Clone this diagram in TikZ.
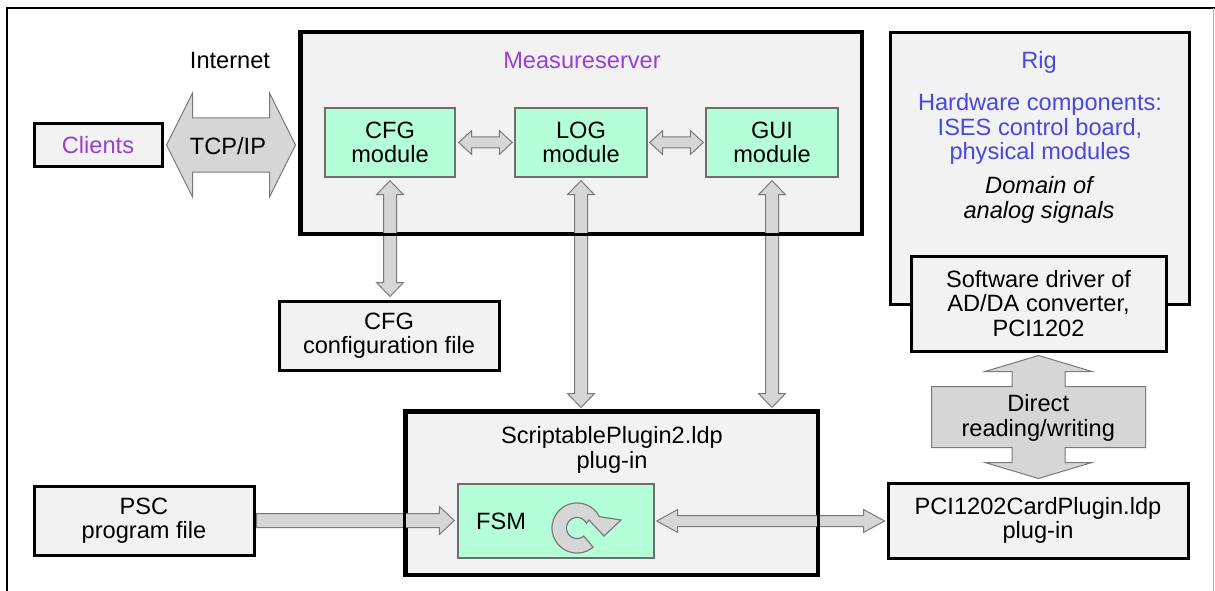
\documentclass[tikz,border=0pt]{standalone}
\usepackage{fontspec}
\setmainfont{Liberation Sans}
\usetikzlibrary{calc}
\definecolor{boxfill}{HTML}{F2F2F2}
\definecolor{mint}{HTML}{B4FFD8}
\definecolor{arrfill}{HTML}{D6D6D6}
\definecolor{arrline}{HTML}{7A7A7A}
\definecolor{purp}{HTML}{9B3FD0}
\definecolor{bluet}{HTML}{4848E0}
\definecolor{modline}{HTML}{6E6E6E}
\newcommand\dblHarrow[5]{%
  \draw[blockarrow] let \p1=#1, \p2=#2 in
   (\x1,\y1) -- (\x1+#5,\y1+#4) -- (\x1+#5,\y1+#3) -- (\x2-#5,\y1+#3) -- (\x2-#5,\y1+#4)
   -- (\x2,\y1) -- (\x2-#5,\y1-#4) -- (\x2-#5,\y1-#3) -- (\x1+#5,\y1-#3) -- (\x1+#5,\y1-#4) -- cycle;}
\newcommand\dblVarrow[5]{%
  \draw[blockarrow] let \p1=#1, \p2=#2 in
   (\x1,\y1) -- (\x1+#4,\y1-#5) -- (\x1+#3,\y1-#5) -- (\x1+#3,\y2+#5) -- (\x1+#4,\y2+#5)
   -- (\x1,\y2) -- (\x1-#4,\y2+#5) -- (\x1-#3,\y2+#5) -- (\x1-#3,\y1-#5) -- (\x1-#4,\y1-#5) -- cycle;}
\newcommand\sglHarrow[5]{%
  \draw[blockarrow] let \p1=#1, \p2=#2 in
   (\x1,\y1+#3) -- (\x2-#5,\y1+#3) -- (\x2-#5,\y1+#4) -- (\x2,\y1) -- (\x2-#5,\y1-#4)
   -- (\x2-#5,\y1-#3) -- (\x1,\y1-#3) -- cycle;}
\begin{document}
\begin{tikzpicture}[x=1pt,y=-1pt,
  every node/.style={font=\fontsize{23.6}{24.5}\selectfont, align=center, inner sep=0pt},
  box/.style={draw=black, line width=3pt, fill=boxfill},
  module/.style={draw=modline, line width=1.4pt, fill=mint},
  blockarrow/.style={draw=arrline, line width=1pt, fill=arrfill, line join=miter},
  border/.style={draw=black, line width=3pt}]
\useasboundingbox (0,0) rectangle (1215,591);
\fill[white] (0,0) rectangle (1215,591);
% outer frame
\draw[black, line width=1.5pt] (1215,8) -- (7,8) -- (7,592);
\draw[black!30, line width=1pt] (1213.5,8) -- (1213.5,592);

% boxes
\node[box, minimum width=128pt, minimum height=42pt, text=purp] (clients) at (98,145) {Clients};
\node[anchor=base] (internet) at (230,69) {Internet};
\node[box, minimum width=560pt, minimum height=200pt] (ms) at (581,133) {};
\node[text=purp, anchor=base] (mstitle) at (582,69) {Measureserver};
\node[module, minimum width=130pt, minimum height=69pt] (cfg) at (390,142.5) {CFG\\module};
\node[module, minimum width=132pt, minimum height=69pt] (log) at (581,142.5) {LOG\\module};
\node[module, minimum width=132pt, minimum height=69pt] (gui) at (772,142.5) {GUI\\module};
\node[box, minimum width=220pt, minimum height=69pt] (cfgfile) at (389,335.5) {CFG\\configuration file};
\node[box, minimum width=411pt, minimum height=162pt] (sp) at (611.5,493) {};
\node (sptitle) at (612,450) {ScriptablePlugin2.ldp\\plug-in};
\node[module, minimum width=196pt, minimum height=74pt] (fsm) at (556,521) {};
\node (fsmlabel) at (501,521) {FSM};
\node[box, minimum width=220pt, minimum height=69pt] (psc) at (144,520.5) {PSC\\program file};
\node[box, minimum width=300pt, minimum height=75pt] (pci) at (1038,520.5) {PCI1202CardPlugin.ldp\\plug-in};
\node[box, minimum width=299pt, minimum height=271pt] (rig) at (1039.5,168.5) {};
\node[text=bluet, anchor=base] (rigtitle) at (1039,69) {Rig};
\node[text=bluet] (hw) at (1040,129) {Hardware components:\\ISES control board,\\physical modules};
\node[font=\fontsize{23.6}{24.5}\selectfont\itshape] (dom) at (1039,200) {Domain of\\analog signals};
\node[box, minimum width=255pt, minimum height=95pt] (sw) at (1038.5,303.5) {Software driver of\\AD/DA converter,\\PCI1202};

% FSM cycle icon
\begin{scope}[shift={(577,528)}]
\draw[blockarrow, line width=1.2pt] plot[domain=50:333,samples=60] ({25*cos(\x)},{25*sin(\x)}) -- (44,-8) -- (27,8) -- (12,-8)
  -- plot[domain=333:50,samples=60] ({10.5*cos(\x)},{10.5*sin(\x)}) -- cycle;
\end{scope}

% arrows
\dblHarrow{([xshift=3pt]clients.east)}{([xshift=-4pt]ms.west)}{27pt}{52pt}{26pt}
\node (tcp) at (228,146) {TCP/IP};
\dblHarrow{([xshift=3pt]cfg.east)}{([xshift=-2pt]log.west)}{5.5pt}{12pt}{13pt}
\dblHarrow{([xshift=2pt]log.east)}{([xshift=-2pt]gui.west)}{5.5pt}{12pt}{13pt}
\dblVarrow{([yshift=-3pt]cfg.south)}{([yshift=3pt]cfgfile.north)}{6.5pt}{13.5pt}{14pt}
\dblVarrow{([yshift=-3pt]log.south)}{([yshift=3pt]log.south |- sp.north)}{6.5pt}{13.5pt}{14pt}
\dblVarrow{([yshift=-3pt]gui.south)}{([yshift=3pt]gui.south |- sp.north)}{6.5pt}{13.5pt}{14pt}
\sglHarrow{([xshift=1pt]psc.east)}{([xshift=-3pt]fsm.west)}{7pt}{14pt}{15pt}
\dblHarrow{([xshift=2pt]fsm.east)}{([xshift=-2pt]pci.west)}{5.5pt}{11.5pt}{21pt}
% direct reading/writing
\draw[blockarrow] let \p1=([yshift=-3pt]sw.south), \p2=([yshift=3pt]pci.north) in
  (\x1,\y1) -- (\x1+53.5pt,\y1-16pt) -- (\x1+26.5pt,\y1-16pt) -- (\x1+26.5pt,\y1-31pt)
  -- (\x1+107pt,\y1-31pt) -- (\x1+107pt,\y2+31pt) -- (\x1+26.5pt,\y2+31pt) -- (\x1+26.5pt,\y2+16pt)
  -- (\x1+53.5pt,\y2+16pt) -- (\x1,\y2) -- (\x1-53.5pt,\y2+16pt) -- (\x1-26.5pt,\y2+16pt)
  -- (\x1-26.5pt,\y2+31pt) -- (\x1-107pt,\y2+31pt) -- (\x1-107pt,\y1-31pt) -- (\x1-26.5pt,\y1-31pt)
  -- (\x1-26.5pt,\y1-16pt) -- (\x1-53.5pt,\y1-16pt) -- cycle;
\node (direct) at ($(sw.south)!0.5!(pci.north)+(0,1)$) {Direct\\reading/writing};

% borders over crossing arrows
\draw[border] (ms.south west) rectangle (ms.north east);
\draw[border] (sp.south west) rectangle (sp.north east);
\end{tikzpicture}
\end{document}
